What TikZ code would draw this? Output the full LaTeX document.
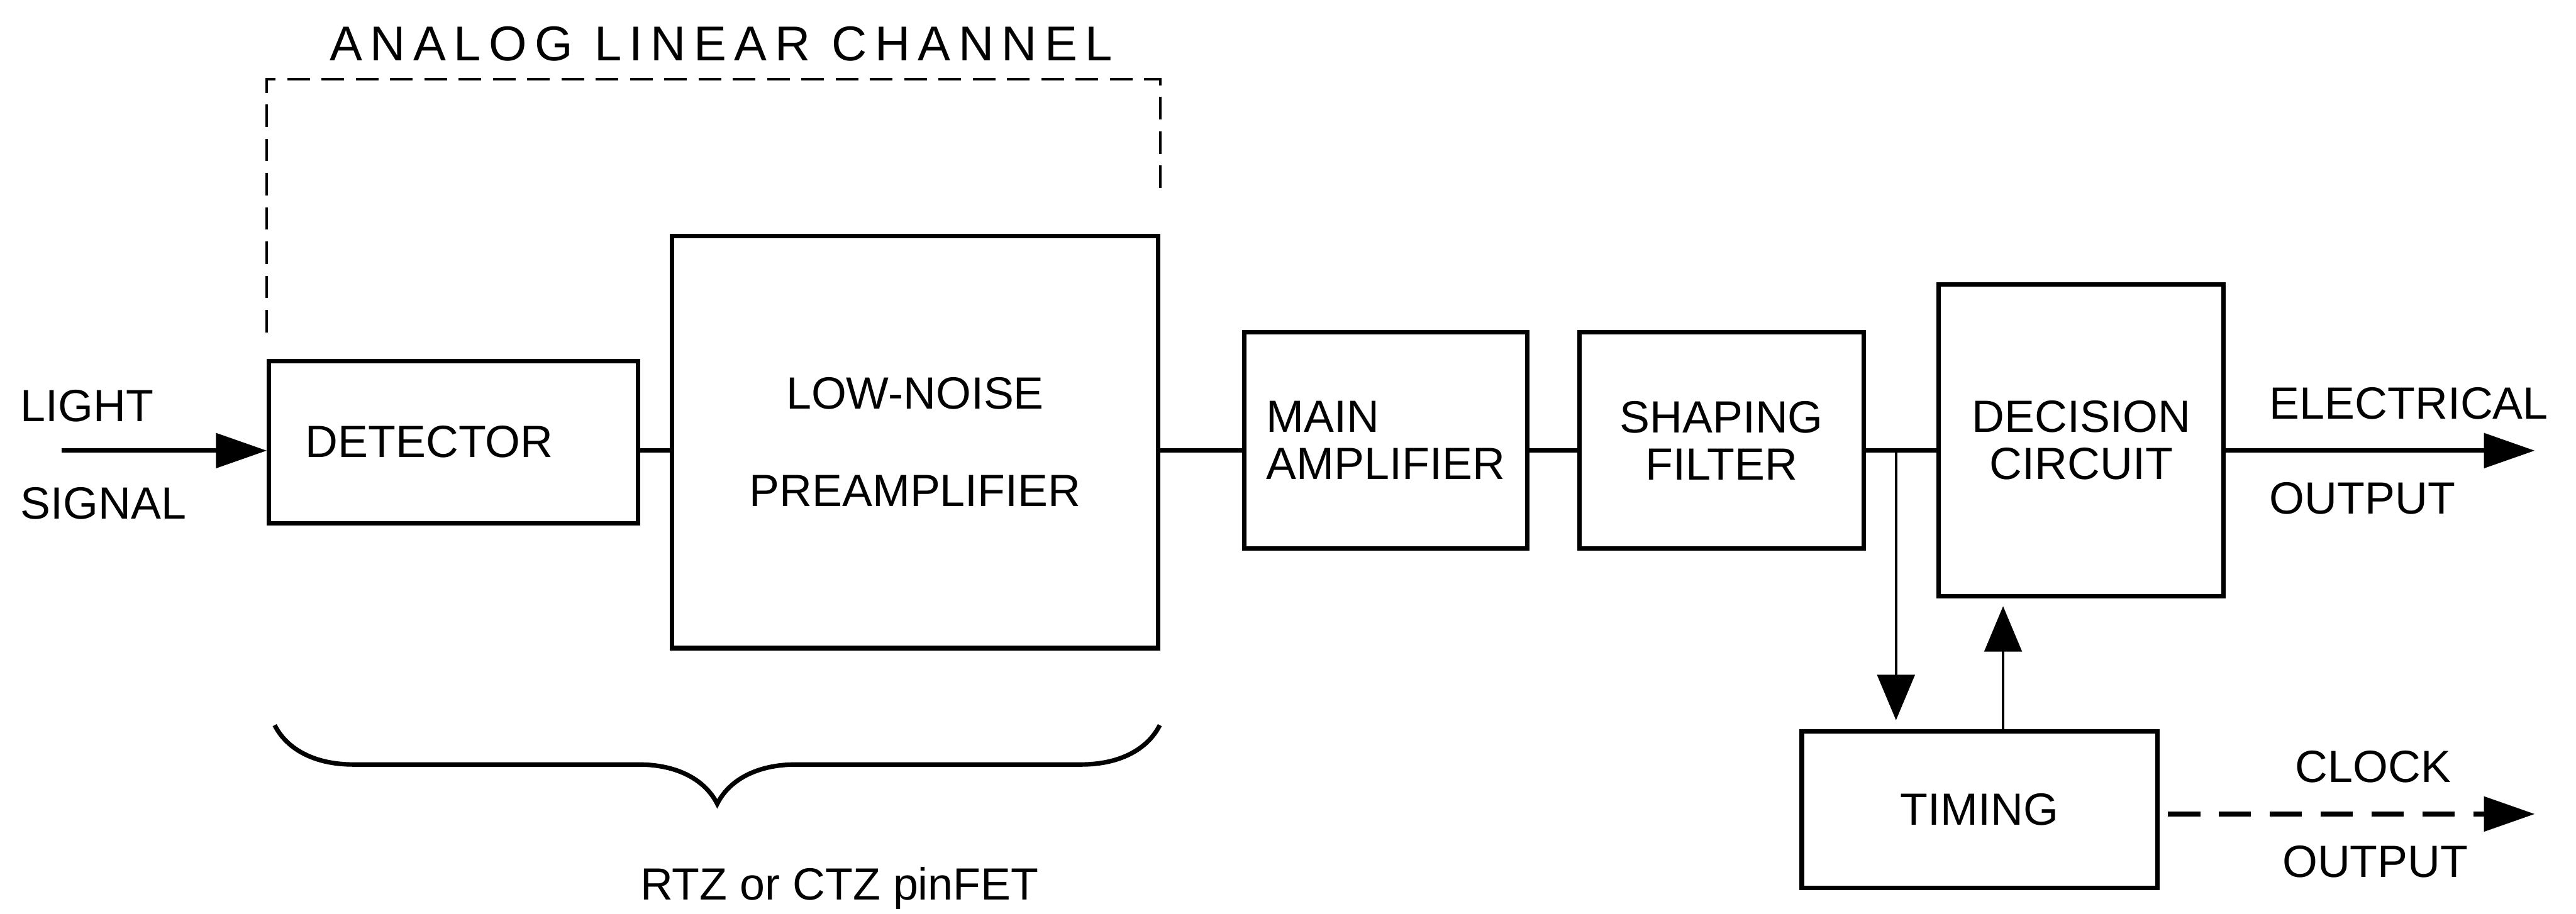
\documentclass[tikz,border=0pt]{standalone}
\usepackage{fontspec}
\setmainfont{Liberation Sans}
\newfontfamily\titlefont[LetterSpace=16]{Liberation Sans}
\usetikzlibrary{arrows.meta,positioning,decorations.pathreplacing}

\begin{document}
\begin{tikzpicture}[
  >={Triangle[length=9.5mm,width=6.4mm]},
  every node/.style={font=\fontsize{24}{25}\selectfont},
  blk/.style={draw,line width=2.4pt,inner sep=0pt,align=center},
  lbl/.style={anchor=west,inner sep=0pt},
  arc/.style={->,line width=2.4pt},
  tap/.style={->,line width=1.3pt,>={Triangle[length=8.5mm,width=7mm]}},
  chan/.style={line width=1.3pt,dash pattern=on 4.2mm off 2.2mm}
]
\useasboundingbox (0,0) rectangle (48.11,17.07);
\coordinate (lvl) at (0,8.65);
% blocks
\node[blk,minimum width=6.89cm,minimum height=3.03cm] (det) at (8.47,8.81) {DETECTOR\hspace*{9mm}};
\node[blk,minimum width=9.08cm,minimum height=7.70cm] (pre) at (17.09,8.81) {LOW-NOISE\\[9.4mm]PREAMPLIFIER};
\node[blk,align=left,minimum width=5.28cm,minimum height=4.04cm] (main) at (25.88,8.84) {MAIN\\AMPLIFIER};
\node[blk,minimum width=5.31cm,minimum height=4.04cm] (shap) at (32.15,8.84) {SHAPING\\FILTER};
\node[blk,minimum width=5.32cm,minimum height=5.83cm] (dec) at (38.87,8.84) {DECISION\\CIRCUIT};
\node[blk,minimum width=6.64cm,minimum height=2.92cm] (tim) at (36.97,1.94) {TIMING};
% labels
\node[font=\titlefont\fontsize{26}{30}\selectfont] (title) at (13.47,16.25) {ANALOG LINEAR CHANNEL};
\node[lbl] (light) at (0.38,9.48) {LIGHT};
\node[lbl] (signal) at (0.38,7.66) {SIGNAL};
\node[lbl] (elec) at (42.38,9.53) {ELECTRICAL};
\node[lbl] (elecout) at (42.38,7.76) {OUTPUT};
\node[lbl] (clock) at (42.86,2.74) {CLOCK};
\node[lbl] (clockout) at (42.62,0.97) {OUTPUT};
\node (pinfet) at (15.68,0.47) {RTZ or CTZ pinFET};
% signal path
\coordinate (lin) at (1.15,8.65);
\coordinate (eout) at (47.34,8.65);
\draw[arc] (lin) -- (det.west |- lin);
\draw[line width=2.4pt] (det.east |- lvl) -- (pre.west |- lvl);
\draw[line width=2.4pt] (pre.east |- lvl) -- (main.west |- lvl);
\draw[line width=2.4pt] (main.east |- lvl) -- (shap.west |- lvl);
\draw[line width=2.4pt] (shap.east |- lvl) -- (dec.west |- lvl);
\draw[arc] (dec.east |- eout) -- (eout);
% timing loop
\coordinate (tapx) at (35.41,8.65);
\coordinate (upx) at (37.41,0);
\draw[tap,shorten >=1.7mm] (tapx) -- (tapx |- tim.north);
\draw[tap,shorten >=1.4mm] (upx |- tim.north) -- (upx |- dec.south);
\coordinate (clk) at (47.34,1.86);
\draw[arc,dash pattern=on 6mm off 3.5mm,shorten <=1.6mm] (tim.east |- clk) -- (clk);
% channel outline and brace
\draw[chan] ([yshift=4.9mm]det.north west) |- ([yshift=2.89cm]pre.north east) -- ([yshift=7.6mm]pre.north east);
\coordinate (bl) at (5.13,3.52);
\coordinate (br) at (21.66,3.52);
\draw[line width=2.4pt,decorate,decoration={brace,amplitude=1.47cm,mirror}] (bl) -- (br);
\end{tikzpicture}
\end{document}
